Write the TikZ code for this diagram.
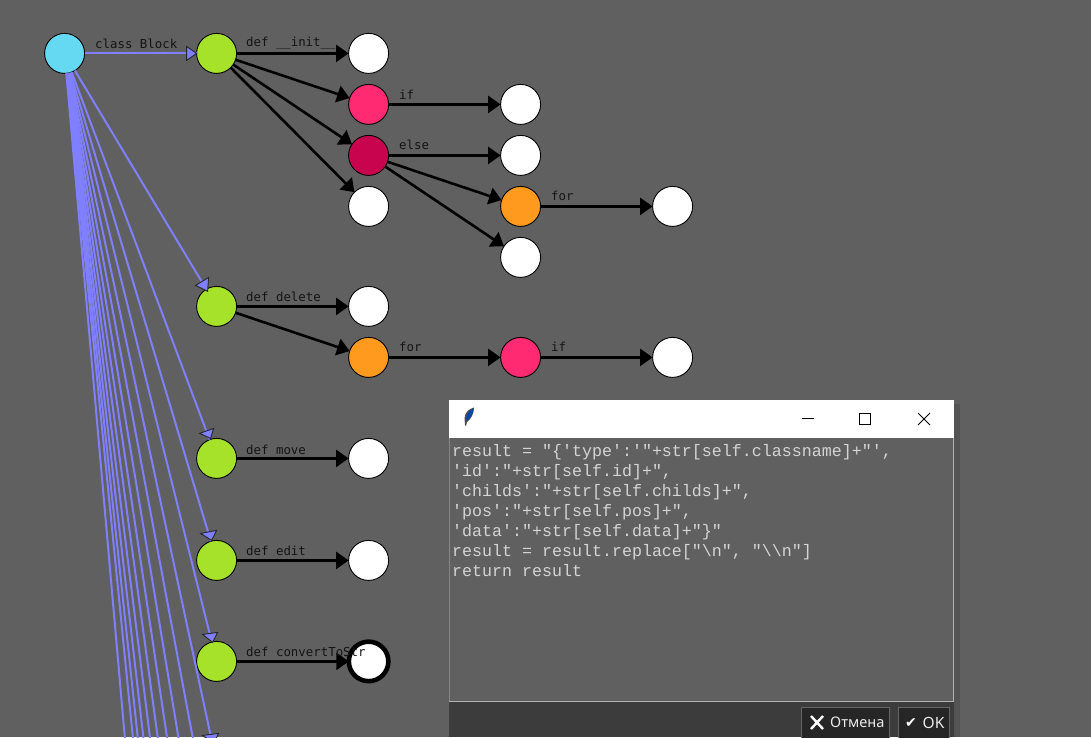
\documentclass[tikz,border=0pt]{standalone}
\usepackage{fontspec}
\setmainfont{Liberation Sans}
\newfontfamily\labelfont{DejaVu Sans Mono}
\newfontfamily\dialogfont{Liberation Mono}
\newfontfamily\uifont{Noto Sans}
\newfontfamily\symfont{DejaVu Sans}
\usetikzlibrary{arrows.meta}
\definecolor{bg}{HTML}{606060}
\definecolor{fanblue}{HTML}{7F7FFF}
\definecolor{nodecyan}{HTML}{66D9F2}
\definecolor{nodegreen}{HTML}{A6E22A}
\definecolor{nodepink}{HTML}{FF2A72}
\definecolor{nodecrimson}{HTML}{C8044F}
\definecolor{nodeorange}{HTML}{FF9A1F}
\definecolor{barcol}{HTML}{3C3C3C}
\definecolor{btncol}{HTML}{262626}
\tikzset{
 circ/.style={circle,draw=black,line width=0.9pt,minimum size=40pt,inner sep=0pt,outer sep=0pt},
 whitec/.style={circ,fill=white},
 greenc/.style={circ,fill=nodegreen},
 pinkc/.style={circ,fill=nodepink},
 crimc/.style={circ,fill=nodecrimson},
 orangec/.style={circ,fill=nodeorange},
 ring/.style={circ,fill=white,line width=4.6pt,minimum size=39.5pt},
 edge/.style={draw=black,line width=2.6pt,-{Triangle[length=12.5pt,width=17pt]}},
 fan/.style={draw=fanblue,line width=2pt},
 fanhead/.style={fill=fanblue,draw=black!85,line width=0.9pt,line join=miter},
 lab/.style={anchor=west,inner sep=0pt,text=black!92,font=\labelfont\fontsize{12.4}{14}\selectfont},
}
\begin{document}
\begin{tikzpicture}[x=1pt,y=-1pt]
\useasboundingbox (0,0) rectangle (1091,737);
\clip (0,0) rectangle (1091,737);
\fill[bg] (0,0) rectangle (1091,737);
\begin{scope}[shift={(0.6,0.4)}]
% nodes
\node[circ,fill=nodecyan] (root) at (64,53) {};
\node[greenc] (c1) at (216,53) {};
\node[whitec] (w1) at (368,53) {};
\node[pinkc] (p1) at (368,104) {};
\node[crimc] (d1) at (368,155) {};
\node[whitec] (w2) at (368,206) {};
\node[whitec] (w3) at (520,104) {};
\node[whitec] (w4) at (520,155) {};
\node[orangec] (o1) at (520,206) {};
\node[whitec] (w5) at (520,257) {};
\node[whitec] (w6) at (672,206) {};
\node[greenc] (c2) at (216,306) {};
\node[whitec] (w7) at (368,306) {};
\node[orangec] (o2) at (368,357) {};
\node[pinkc] (p2) at (520,357) {};
\node[whitec] (w8) at (672,357) {};
\node[greenc] (c3) at (216,458) {};
\node[whitec] (w9) at (368,458) {};
\node[greenc] (c4) at (216,560) {};
\node[whitec] (w10) at (368,560) {};
\node[greenc] (c5) at (216,661) {};
\node[ring] (w11) at (368,661) {};
% fan of class-level edges
\draw[fan] (root) -- (c1);
\draw[fan] (root) -- (c2);
\draw[fan] (root) -- (c3);
\draw[fan] (root) -- (c4);
\draw[fan] (root) -- (c5);
\foreach \k in {0,...,8,10}{
 \coordinate (t\k) at (216,{763+101.6*\k});
 \draw[fan] (root) -- (t\k);
}
% oddly rotated heads
\draw[fanhead] (186,46) -- (196,53) -- (186,60) -- cycle;
\draw[fanhead] (195,285) -- (208,277) -- (207,291) -- cycle;
\draw[fanhead] (199,433) -- (213,428) -- (210,438) -- cycle;
\draw[fanhead] (200,533) -- (216,530) -- (211,540) -- cycle;
\draw[fanhead] (202,634) -- (217,632) -- (212,642) -- cycle;
\draw[fanhead] (202,735) -- (218,733) -- (213,743) -- cycle;
% black edges
\draw[edge] (c1) -- (w1);
\draw[edge] (c1) -- (p1);
\draw[edge] (c1) -- (d1);
\draw[edge] (c1) -- (w2);
\draw[edge] (p1) -- (w3);
\draw[edge] (d1) -- (w4);
\draw[edge] (d1) -- (o1);
\draw[edge] (d1) -- (w5);
\draw[edge] (o1) -- (w6);
\draw[edge] (c2) -- (w7);
\draw[edge] (c2) -- (o2);
\draw[edge] (o2) -- (p2);
\draw[edge] (p2) -- (w8);
\draw[edge] (c3) -- (w9);
\draw[edge] (c4) -- (w10);
\draw[edge] (c5) -- (w11);
\end{scope}
% labels
\node[lab] (l1) at (95,43.7) {class Block};
\node[lab] (l2) at (246,43.7) {def \_\kern-0.2pt\_init\_\kern-0.2pt\_};
\node[lab] (l3) at (399,94.7) {if};
\node[lab] (l4) at (399,144.7) {else};
\node[lab] (l5) at (551,195.7) {for};
\node[lab] (l6) at (246,296.7) {def delete};
\node[lab] (l7) at (399,346.7) {for};
\node[lab] (l8) at (551,346.7) {if};
\node[lab] (l9) at (246,449.7) {def move};
\node[lab] (l10) at (246,550.7) {def edit};
\node[lab] (l11) at (246,651.7) {def convertToStr};
% dialog window
\fill[black,opacity=.12] (954,404) rectangle (960,737);
\fill[bg] (449,438) rectangle (954,702);
\draw[black!62,line width=1pt] (448.5,400) -- (448.5,737);
\draw[black!48,line width=1pt] (449.8,438) -- (449.8,702);
\draw[black!30,line width=1pt] (449,701.7) -- (954,701.7);
\draw[black!30,line width=1pt] (953.5,438) -- (953.5,702);
\fill[white] (449,400) rectangle (954,438);
\fill[barcol] (449,702.3) rectangle (954,737);
% feather icon
\fill[black!70] (465,425) -- (464.5,418) .. controls (465,412) and (469,409) .. (474,407.5) .. controls (474,414) and (471,419) .. (467,422) -- (466,426) -- cycle;
\fill[blue!60!cyan!70!black] (466,420) .. controls (466,414) and (470,410) .. (473.5,408.5) .. controls (473,414) and (470,418) .. (467,420.5) -- cycle;
% window controls
\draw[black,line width=0.9pt] (802,418.5) -- (814,418.5);
\draw[black,line width=0.9pt] (859.5,413.5) rectangle (870.5,424.5);
\draw[black,line width=0.9pt] (918,413) -- (930,425) (930,413) -- (918,425);
% code
\node[anchor=north west,inner sep=0pt,align=left,text=black!17,font=\dialogfont\fontsize{16.65}{20.05}\selectfont] (code) at (452,444) {result = "\{'type':'"+str[self.classname]+"',\\
'id':"+str[self.id]+",\\
'childs':"+str[self.childs]+",\\
'pos':"+str[self.pos]+",\\
'data':"+str[self.data]+"\}"\\
result = result.replace["\textbackslash n", "\textbackslash\textbackslash n"]\\
return result};
% buttons
\draw[fill=btncol,draw=black!60,line width=1pt] (801,707) rectangle (889,740);
\draw[fill=btncol,draw=black!60,line width=1pt] (898,707) rectangle (949,740);
\draw[white,line width=2.4pt] (811,716) -- (823,729) (823,716) -- (811,729);
\node[anchor=west,inner sep=0pt,text=white!92!black,font=\uifont\fontsize{14.6}{17}\selectfont] (cancel) at (830,722.5) {Отмена};
\node[anchor=center,inner sep=0pt,text=white,font=\symfont\fontsize{14}{15}\selectfont] (chk) at (911,723) {✔};
\node[anchor=west,inner sep=0pt,text=white!92!black,font=\uifont\fontsize{15.5}{17}\selectfont] (ok) at (922.5,722.5) {OK};
\end{tikzpicture}
\end{document}
